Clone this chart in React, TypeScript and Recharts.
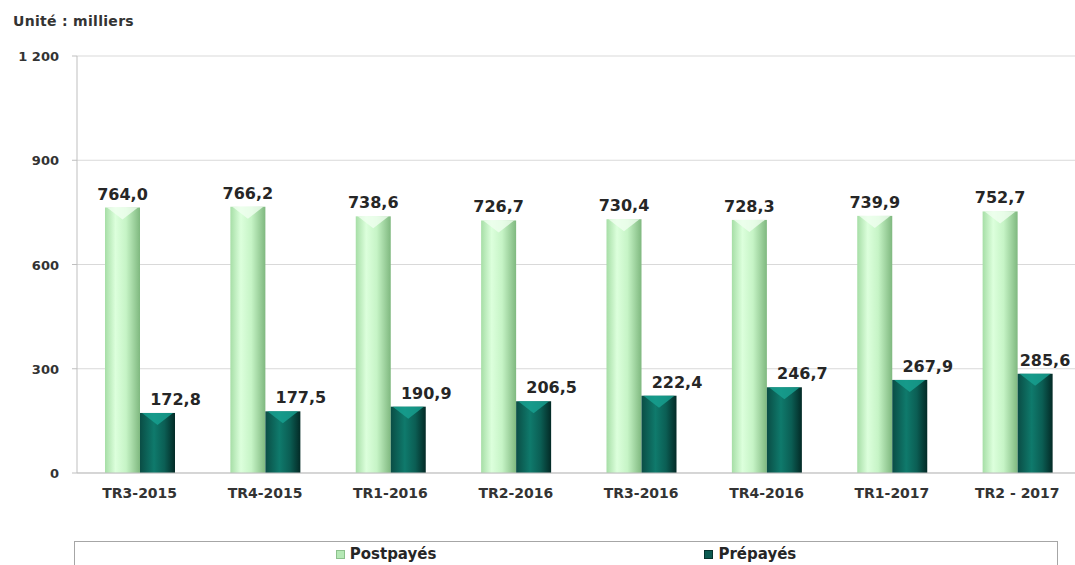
import React from 'react';
import { BarChart, Bar, XAxis, YAxis, CartesianGrid, Legend, LabelList } from 'recharts';

const quarters = ['TR3-2015', 'TR4-2015', 'TR1-2016', 'TR2-2016', 'TR3-2016', 'TR4-2016', 'TR1-2017', 'TR2 - 2017'];
const postpayes = [764.0, 766.2, 738.6, 726.7, 730.4, 728.3, 739.9, 752.7];
const prepayes = [172.8, 177.5, 190.9, 206.5, 222.4, 246.7, 267.9, 285.6];
const yTicks = [0, 300, 600, 900, 1200];

const data = quarters.map((q, i) => ({ quarter: q, post: postpayes[i], pre: prepayes[i] }));

const fmtValue = (v: number) => v.toFixed(1).replace('.', ',');
const fmtTick = (v: number) => (v >= 1000 ? `${Math.floor(v / 1000)} ${String(v % 1000).padStart(3, '0')}` : String(v));

const bevelBar = (grad: string, cap: string) => (props: any) => {
  const { x, y, width, height } = props;
  if (!height || height <= 0) return <g />;
  return (
    <g>
      <rect x={x} y={y} width={width} height={height} fill={`url(#${grad})`} />
      <polygon
        points={`${x + 2},${y} ${x + width - 2},${y} ${x + width / 2},${y + 12}`}
        fill={cap}
        opacity={0.8}
      />
    </g>
  );
};

// labels of the dark bars sit to the right of the bar, kept inside the picture
const valueLabel = (dx: number) => (props: any) => {
  const { x, y, width, value } = props;
  const cx = Math.min(x + width / 2 + dx, 1045);
  return (
    <text
      x={cx}
      y={y - 8}
      textAnchor="middle"
      fontFamily="DejaVu Sans"
      fontWeight="bold"
      fontSize={16}
      fill="#262626"
    >
      {fmtValue(value)}
    </text>
  );
};

const XTick = ({ x, y, payload }: any) => (
  <text x={x} y={y} dy={17} textAnchor="middle" fontFamily="DejaVu Sans" fontWeight="bold" fontSize={14} fill="#333">
    {payload.value}
  </text>
);

const YTick = ({ x, y, payload }: any) => (
  <text x={x - 11} y={y} dy={5} textAnchor="end" fontFamily="DejaVu Sans" fontWeight="bold" fontSize={13} fill="#333">
    {fmtTick(payload.value)}
  </text>
);

const legendItems = [
  { name: 'Postpayés', color: '#b5e8b5', border: '#8cc08c' },
  { name: 'Prépayés', color: '#0b5a51', border: '#06332e' },
];

const LegendBox = () => (
  <div
    style={{
      border: '1px solid #a6a6a6',
      height: 30,
      boxSizing: 'border-box',
      display: 'flex',
      justifyContent: 'center',
      alignItems: 'flex-start',
      gap: 268,
      paddingTop: 3,
    }}
  >
    {legendItems.map((it) => (
      <div key={it.name} style={{ display: 'flex', alignItems: 'center', gap: 5 }}>
        <span style={{ width: 7, height: 7, background: it.color, border: `1px solid ${it.border}` }} />
        <span style={{ fontFamily: 'DejaVu Sans', fontWeight: 'bold', fontSize: 15, lineHeight: '18px', color: '#262626' }}>
          {it.name}
        </span>
      </div>
    ))}
  </div>
);

export default function App() {
  return (
    <div style={{ position: 'absolute', left: 0, top: 0, width: 1075, height: 565, overflow: 'hidden', background: '#fff' }}>
      <div
        style={{
          position: 'absolute',
          left: 13,
          top: 13,
          fontFamily: 'DejaVu Sans',
          fontWeight: 'bold',
          fontSize: 14,
          letterSpacing: 0.3,
          color: '#333',
        }}
      >
        Unité : milliers
      </div>
      <BarChart width={1080} height={565} data={data} margin={{ top: 56, right: 0, left: 0, bottom: 0 }} barGap={0}>
        <defs>
          <linearGradient id="gPost" x1="0" y1="0" x2="1" y2="0">
            <stop offset="0%" stopColor="#a6dea6" />
            <stop offset="30%" stopColor="#dcffdc" />
            <stop offset="60%" stopColor="#c6f4c6" />
            <stop offset="100%" stopColor="#7fb87f" />
          </linearGradient>
          <linearGradient id="gPre" x1="0" y1="0" x2="1" y2="0">
            <stop offset="0%" stopColor="#0a4d45" />
            <stop offset="40%" stopColor="#0f7a6c" />
            <stop offset="70%" stopColor="#0b5e54" />
            <stop offset="100%" stopColor="#032a26" />
          </linearGradient>
        </defs>
        <CartesianGrid vertical={false} stroke="#d9d9d9" />
        <XAxis
          dataKey="quarter"
          height={62}
          tick={<XTick />}
          tickLine={false}
          axisLine={{ stroke: '#bfbfbf' }}
          interval={0}
        />
        <YAxis
          width={77}
          domain={[0, 1200]}
          ticks={yTicks}
          tick={<YTick />}
          tickSize={5}
          tickLine={{ stroke: '#bfbfbf' }}
          axisLine={{ stroke: '#bfbfbf' }}
        />
        <Legend
          verticalAlign="bottom"
          content={<LegendBox />}
          wrapperStyle={{ left: 74, top: 541, bottom: 'auto', width: 984 }}
        />
        <Bar
          dataKey="post"
          name="Postpayés"
          barSize={35}
          fill="#b5e8b5"
          shape={bevelBar('gPost', '#f0fff0')}
          isAnimationActive={false}
        >
          <LabelList dataKey="post" content={valueLabel(0)} />
        </Bar>
        <Bar
          dataKey="pre"
          name="Prépayés"
          barSize={35}
          fill="#0b5a51"
          shape={bevelBar('gPre', '#18a392')}
          isAnimationActive={false}
        >
          <LabelList dataKey="pre" content={valueLabel(18)} />
        </Bar>
      </BarChart>
    </div>
  );
}
